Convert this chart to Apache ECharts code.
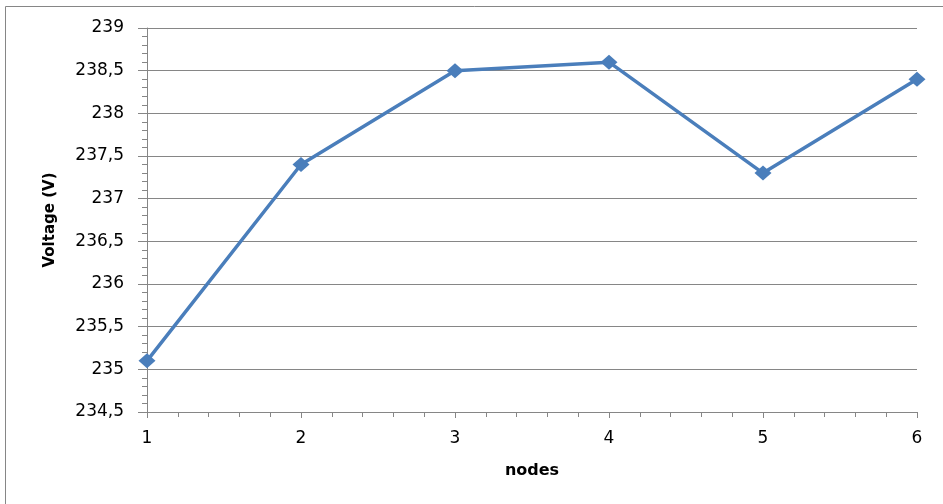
<!DOCTYPE html>
<html>
<head>
<meta charset="utf-8">
<script src="https://cdn.jsdelivr.net/npm/echarts@6/dist/echarts.min.js"></script>
<style>
  html, body { margin: 0; padding: 0; background: #fff; }
  #chart { width: 943px; height: 504px; }
</style>
</head>
<body>
<div id="chart"></div>
<script>
// Node indices along the feeder and the voltage measured at each
const nodes = [1, 2, 3, 4, 5, 6];
const voltage = [235.1, 237.4, 238.5, 238.6, 237.3, 238.4];

const yMin = 234.5, yMax = 239, yStep = 0.5;

const chart = echarts.init(document.getElementById('chart'), null, { renderer: 'canvas' });
const font = 'Verdana, "DejaVu Sans", sans-serif';
const gray = '#868686';

chart.setOption({
  animation: false,
  // outer chart frame (top and left edges)
  graphic: [
    { type: 'line', shape: { x1: 5.5, y1: 6.5, x2: 943, y2: 6.5 }, style: { stroke: gray, lineWidth: 1 }, silent: true },
    { type: 'line', shape: { x1: 5.5, y1: 6.5, x2: 5.5, y2: 504 }, style: { stroke: gray, lineWidth: 1 }, silent: true }
  ],
  grid: { left: 147, right: 26, top: 28, bottom: 92 },
  xAxis: {
    type: 'value',
    min: 1, max: 6, interval: 1,
    name: 'nodes',
    nameLocation: 'middle',
    nameGap: 51,
    nameTextStyle: { fontFamily: font, fontSize: 16, fontWeight: 'bold', color: '#000' },
    axisLine: { show: true, lineStyle: { color: gray, width: 1 } },
    axisTick: { show: true, length: 6, lineStyle: { color: gray } },
    minorTick: { show: true, splitNumber: 5, length: 5, lineStyle: { color: gray } },
    axisLabel: { fontFamily: font, fontSize: 17, color: '#000', margin: 18 },
    splitLine: { show: false }
  },
  yAxis: {
    type: 'value',
    min: yMin, max: yMax, interval: yStep,
    name: 'Voltage (V)',
    nameLocation: 'middle',
    nameGap: 89,
    nameRotate: 90,
    nameTextStyle: { fontFamily: font, fontSize: 15, fontWeight: 'bold', color: '#000' },
    axisLine: { show: true, lineStyle: { color: gray, width: 1 } },
    axisTick: { show: true, length: 9, lineStyle: { color: gray } },
    minorTick: { show: true, splitNumber: 5, length: 5, lineStyle: { color: gray } },
    axisLabel: {
      fontFamily: font, fontSize: 17, color: '#000', margin: 23,
      formatter: v => String(Math.round(v * 10) / 10).replace('.', ',')
    },
    splitLine: { show: true, lineStyle: { color: gray, width: 1 } }
  },
  series: [{
    type: 'line',
    data: nodes.map((n, i) => [n, voltage[i]]),
    lineStyle: { color: '#4a7ebb', width: 3.5 },
    itemStyle: { color: '#4a7ebb' },
    symbol: 'diamond',
    symbolSize: [17, 15],
    showSymbol: true,
    clip: false
  }]
});
</script>
</body>
</html>
